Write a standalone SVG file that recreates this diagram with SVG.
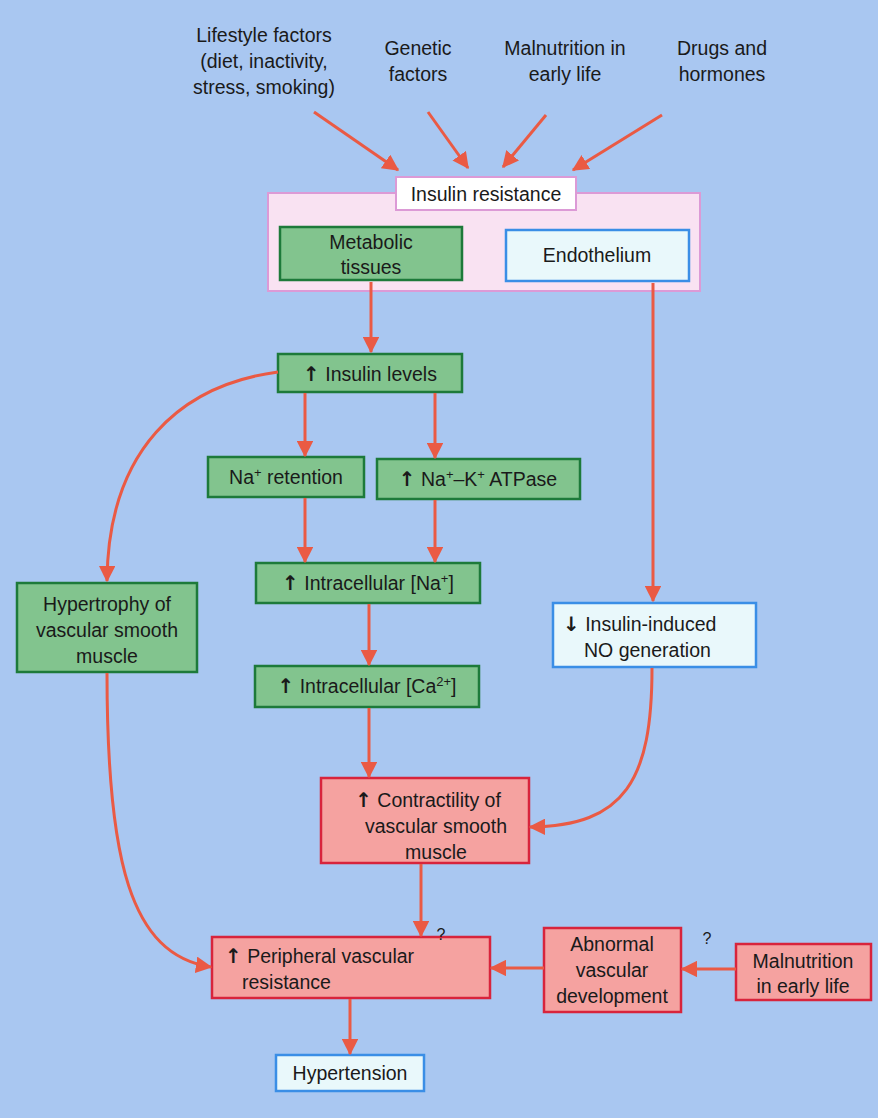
<svg xmlns="http://www.w3.org/2000/svg" width="878" height="1118" viewBox="0 0 878 1118">
<defs>
<marker id="ah" viewBox="0 0 12 12" refX="11" refY="6" markerWidth="5.5" markerHeight="5.5" markerUnits="strokeWidth" orient="auto">
<path d="M0,0 L12,6 L0,12 z" fill="#ea5a44"/>
</marker>
<style>
text{font-family:"Liberation Sans",Arial,sans-serif;font-size:19.5px;fill:#1a1a1a;text-anchor:middle}
.g{fill:#82c48e;stroke:#1d7a3a;stroke-width:2.5}
.b{fill:#e9f8fb;stroke:#3a8ee6;stroke-width:2.5}
.r{fill:#f5a2a0;stroke:#d8243c;stroke-width:2.5}
.c path,.c line{stroke:#ea5a44;stroke-width:3;fill:none;marker-end:url(#ah)}
.sup{font-size:13px}
.l{text-anchor:start}
.ar{font-family:"DejaVu Sans",sans-serif;font-weight:bold;font-size:20px}
</style>
</defs>
<rect width="878" height="1118" fill="#a9c7f1"/>

<g id="factors">
<text x="264" y="42">Lifestyle factors</text>
<text x="264" y="68">(diet, inactivity,</text>
<text x="264" y="94">stress, smoking)</text>
<text x="418" y="55">Genetic</text>
<text x="418" y="81">factors</text>
<text x="565" y="55">Malnutrition in</text>
<text x="565" y="81">early life</text>
<text x="722" y="55">Drugs and</text>
<text x="722" y="81">hormones</text>
</g>

<g id="insulin-resistance">
<rect x="268" y="193" width="432" height="98" fill="#f9e2f2" stroke="#dc9ad6" stroke-width="2"/>
<rect x="396" y="177" width="180" height="33" fill="#ffffff" stroke="#dc9ad6" stroke-width="2"/>
<text x="486" y="201">Insulin resistance</text>
</g>

<g id="metabolic">
<rect class="g" x="280" y="227" width="182" height="53"/>
<text x="371" y="249">Metabolic</text>
<text x="371" y="274">tissues</text>
</g>

<g id="endothelium">
<rect class="b" x="506" y="230" width="183" height="51"/>
<text x="597" y="262">Endothelium</text>
</g>

<g id="insulin-levels">
<rect class="g" x="278" y="354" width="184" height="38"/>
<text x="370" y="381"><tspan class="ar">↑</tspan> Insulin levels</text>
</g>

<g id="na-retention">
<rect class="g" x="208" y="457" width="156" height="40"/>
<text x="286" y="484">Na<tspan class="sup" dy="-7">+</tspan><tspan dy="7"> retention</tspan></text>
</g>

<g id="atpase">
<rect class="g" x="377" y="459" width="203" height="40"/>
<text x="478" y="486"><tspan class="ar">↑</tspan> Na<tspan class="sup" dy="-7">+</tspan><tspan dy="7">–K</tspan><tspan class="sup" dy="-7">+</tspan><tspan dy="7"> ATPase</tspan></text>
</g>

<g id="intra-na">
<rect class="g" x="256" y="563" width="224" height="40"/>
<text x="368" y="590"><tspan class="ar">↑</tspan> Intracellular [Na<tspan class="sup" dy="-7">+</tspan><tspan dy="7">]</tspan></text>
</g>

<g id="hypertrophy">
<rect class="g" x="17" y="583" width="180" height="89"/>
<text x="107" y="611">Hypertrophy of</text>
<text x="107" y="637">vascular smooth</text>
<text x="107" y="663">muscle</text>
</g>

<g id="no-generation">
<rect class="b" x="553" y="603" width="203" height="64"/>
<text class="l" x="563" y="631"><tspan class="ar">↓</tspan> Insulin-induced</text>
<text class="l" x="584" y="657">NO generation</text>
</g>

<g id="intra-ca">
<rect class="g" x="255" y="666" width="224" height="41"/>
<text x="367" y="693"><tspan class="ar">↑</tspan> Intracellular [Ca<tspan class="sup" dy="-7">2+</tspan><tspan dy="7">]</tspan></text>
</g>

<g id="contractility">
<rect class="r" x="321" y="778" width="208" height="85"/>
<text x="428" y="807"><tspan class="ar">↑</tspan>  Contractility of</text>
<text x="436" y="833">vascular smooth</text>
<text x="436" y="859">muscle</text>
</g>

<g id="pvr">
<rect class="r" x="212" y="937" width="278" height="61"/>
<text class="l" x="225" y="963"><tspan class="ar">↑</tspan> Peripheral vascular</text>
<text class="l" x="242" y="989">resistance</text>
</g>

<g id="abnormal">
<rect class="r" x="544" y="928" width="137" height="84"/>
<text x="612" y="951">Abnormal</text>
<text x="612" y="977">vascular</text>
<text x="612" y="1003">development</text>
</g>

<g id="malnutrition">
<rect class="r" x="736" y="944" width="135" height="56"/>
<text x="803" y="968">Malnutrition</text>
<text x="803" y="993">in early life</text>
</g>

<g id="hypertension">
<rect class="b" x="276" y="1055" width="148" height="36"/>
<text x="350" y="1080">Hypertension</text>
</g>

<g id="question-marks">
<text x="441" y="940" style="font-size:16px">?</text>
<text x="707" y="944" style="font-size:16px">?</text>
</g>

<g id="connectors" class="c">
<line x1="314" y1="112" x2="398" y2="170"/>
<line x1="428" y1="112" x2="468" y2="168"/>
<line x1="546" y1="115" x2="503" y2="167"/>
<line x1="662" y1="115" x2="573" y2="170"/>
<line x1="371" y1="282" x2="371" y2="352"/>
<line x1="653" y1="283" x2="653" y2="601"/>
<line x1="305" y1="393" x2="305" y2="456"/>
<line x1="435" y1="393" x2="435" y2="458"/>
<line x1="305" y1="498" x2="305" y2="562"/>
<line x1="435" y1="500" x2="435" y2="562"/>
<line x1="369" y1="604" x2="369" y2="665"/>
<line x1="369" y1="708" x2="369" y2="777"/>
<path d="M278,372 C180,385 108,450 107,581"/>
<path d="M107,673 C107,860 130,955 211,967"/>
<path d="M652,668 C652,780 625,826 530,827"/>
<line x1="421" y1="864" x2="421" y2="936"/>
<line x1="544" y1="968" x2="491" y2="968"/>
<line x1="736" y1="969" x2="682" y2="969"/>
<line x1="350" y1="999" x2="350" y2="1054"/>
</g>
</svg>
